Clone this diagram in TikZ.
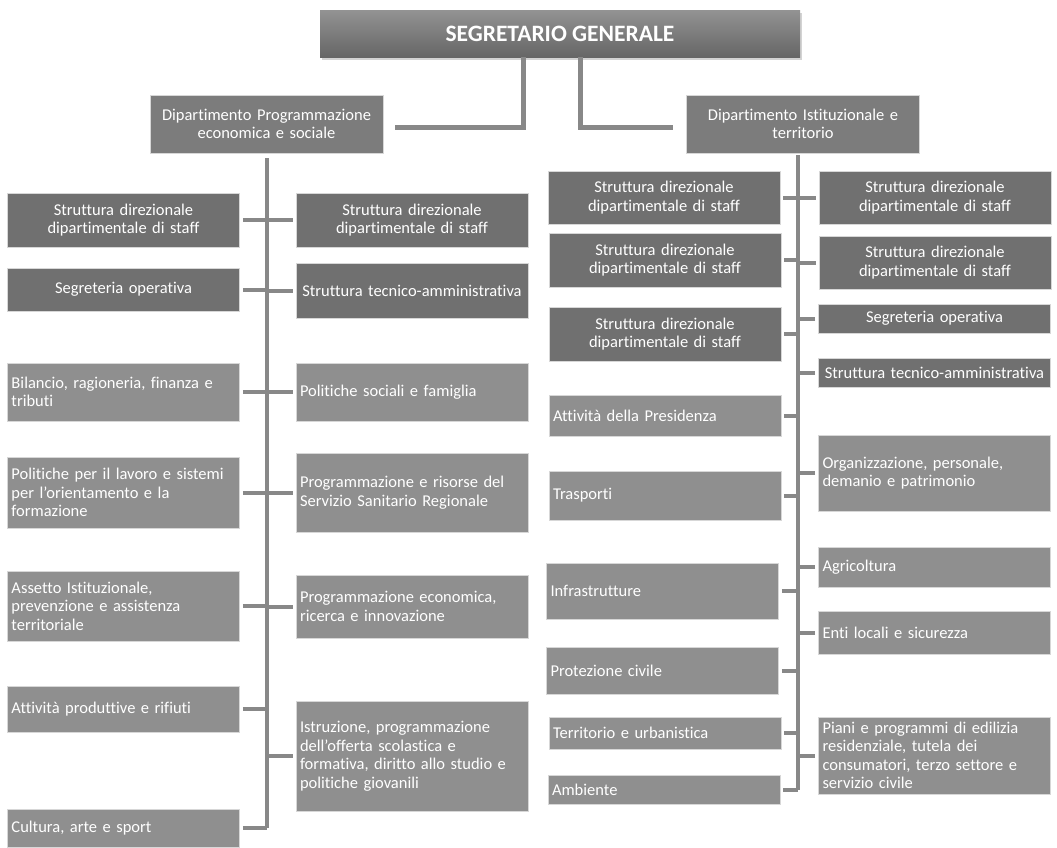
\documentclass[tikz,border=0pt]{standalone}
\usepackage{fontspec}
\setmainfont{Carlito}[Ligatures=NoCommon]
\usetikzlibrary{shadows}
\hyphenpenalty=10000
\exhyphenpenalty=10000
\definecolor{grigioScuro}{RGB}{112,112,112}
\definecolor{grigioMedio}{RGB}{124,124,124}
\definecolor{grigioChiaro}{RGB}{143,143,143}
\definecolor{filo}{RGB}{136,136,136}
\definecolor{bordo}{RGB}{215,215,215}

\begin{document}
\begin{tikzpicture}[x=1pt,y=-1pt,
  ufficio/.style={rectangle, draw=bordo, line width=0.8pt, text=white, inner xsep=4pt, inner ysep=1pt,
    text width=224pt, font=\fontsize{16.5}{18.5}\selectfont},
  staff/.style={ufficio, fill=grigioScuro, align=center},
  settore/.style={ufficio, fill=grigioChiaro, align=left},
  dipartimento/.style={ufficio, fill=grigioMedio, align=center, text width=225pt, minimum height=58pt},
  vertice/.style={rectangle, minimum width=480pt, minimum height=47pt, text=white,
    top color=gray!85!white, bottom color=gray!80!black,
    drop shadow={shadow xshift=2pt, shadow yshift=-3pt, opacity=0.35},
    font=\fontsize{23.5}{26}\selectfont\bfseries},
  ramo/.style={draw=filo, line width=4pt, shorten <=3pt}]
  \useasboundingbox (0,0) rectangle (1057,847);

  \node[vertice] (sg) at (560,33.5) {SEGRETARIO GENERALE};
  \node[dipartimento] (dipL) at (266.5,124) {Dipartimento Programmazione\\economica e sociale};
  \node[dipartimento] (dipR) at (803,124) {Dipartimento Istituzionale e\\territorio};

  % Dipartimento Programmazione economica e sociale
  \node[staff, minimum height=54pt] (sdsA) at (123.5,220) {Struttura direzionale\\dipartimentale di staff};
  \node[staff, minimum height=54pt] (sdsB) at (412,220) {Struttura direzionale\\dipartimentale di staff};
  \node[staff, minimum height=43pt] (segA) at (123.5,289.5) {Segreteria operativa};
  \node[staff, minimum height=55pt] (staA) at (412,290.5) {Struttura tecnico-amministrativa};
  \node[settore, minimum height=58pt] (bil) at (123.5,392) {Bilancio, ragioneria, finanza e\\tributi};
  \node[settore, minimum height=58pt] (pso) at (412,392) {Politiche sociali e famiglia};
  \node[settore, minimum height=71pt] (pla) at (123.5,492.5) {Politiche per il lavoro e sistemi\\per l'orientamento e la\\formazione};
  \node[settore, minimum height=79pt] (ssr) at (412,492.5) {Programmazione e risorse del\\Servizio Sanitario Regionale};
  \node[settore, minimum height=70pt] (ass) at (123.5,606) {Assetto Istituzionale,\\prevenzione e assistenza\\territoriale};
  \node[settore, minimum height=63pt] (pec) at (412,606.5) {Programmazione economica,\\ricerca e innovazione};
  \node[settore, minimum height=46pt] (apr) at (123.5,709) {Attività produttive e rifiuti};
  \node[settore, minimum height=110pt] (ist) at (412,756) {Istruzione, programmazione\\dell'offerta scolastica e\\formativa, diritto allo studio e\\politiche giovanili};
  \node[settore, minimum height=38pt] (cul) at (123.5,828) {Cultura, arte e sport};

  % Dipartimento Istituzionale e territorio
  \node[staff, minimum height=53pt] (sdsC) at (664,197.5) {Struttura direzionale\\dipartimentale di staff};
  \node[staff, minimum height=54pt] (sdsD) at (665,260) {Struttura direzionale\\dipartimentale di staff};
  \node[staff, minimum height=54pt] (sdsE) at (665,334) {Struttura direzionale\\dipartimentale di staff};
  \node[staff, minimum height=53pt] (sdsF) at (935,197.5) {Struttura direzionale\\dipartimentale di staff};
  \node[staff, minimum height=53pt] (sdsG) at (935,262.5) {Struttura direzionale\\dipartimentale di staff};
  \node[staff, minimum height=29pt] (segB) at (934.5,318.5) {Segreteria operativa};
  \node[staff, minimum height=29pt] (staB) at (934.5,372.5) {Struttura tecnico-amministrativa};
  \node[settore, minimum height=41pt] (pre) at (665,415.5) {Attività della Presidenza};
  \node[settore, minimum height=49pt] (tra) at (665,495.5) {Trasporti};
  \node[settore, minimum height=76pt] (org) at (934.5,473) {Organizzazione, personale,\\demanio e patrimonio};
  \node[settore, minimum height=40pt] (agr) at (934.5,567) {Agricoltura};
  \node[settore, minimum height=56pt] (inf) at (662.5,591) {Infrastrutture};
  \node[settore, minimum height=43pt] (ent) at (934.5,632.5) {Enti locali e sicurezza};
  \node[settore, minimum height=47pt] (pro) at (662.5,670.5) {Protezione civile};
  \node[settore, minimum height=32pt] (ter) at (665,733) {Territorio e urbanistica};
  \node[settore, minimum height=29pt] (amb) at (664,789.5) {Ambiente};
  \node[settore, minimum height=77pt] (pia) at (934.5,755.5) {Piani e programmi di edilizia\\residenziale, tutela dei\\consumatori, terzo settore e\\servizio civile};

  % segretario -> dipartimenti
  \coordinate (kL) at (523,127);
  \coordinate (kR) at (580,127);
  \draw[ramo, line width=5pt, shorten <=0pt, shorten >=12pt] (sg.south -| kL) -- (kL) -- (kL -| dipL.east);
  \draw[ramo, line width=5pt, shorten <=0pt, shorten >=13pt] (sg.south -| kR) -- (kR) -- (kR -| dipR.west);

  % rami a sinistra
  \draw[ramo, shorten <=5pt] (dipL.south) -- (dipL.south |- cul.east);
  \draw[ramo] (sdsA.east) -- (sdsA.east -| dipL.south);
  \draw[ramo] (sdsB.west) -- (sdsB.west -| dipL.south);
  \draw[ramo] (segA.east) -- (segA.east -| dipL.south);
  \draw[ramo] (staA.west) -- (staA.west -| dipL.south);
  \draw[ramo] (bil.east) -- (bil.east -| dipL.south);
  \draw[ramo] (pso.west) -- (pso.west -| dipL.south);
  \draw[ramo] (pla.east) -- (pla.east -| dipL.south);
  \draw[ramo] (ssr.west) -- (ssr.west -| dipL.south);
  \draw[ramo] (ass.east) -- (ass.east -| dipL.south);
  \draw[ramo] (pec.west) -- (pec.west -| dipL.south);
  \draw[ramo] (apr.east) -- (apr.east -| dipL.south);
  \draw[ramo] (ist.west) -- (ist.west -| dipL.south);
  \draw[ramo] (cul.east) -- (cul.east -| dipL.south);

  % rami a destra
  \coordinate (spR) at (798,155);
  \draw[ramo, shorten <=0pt] (spR) -- (spR |- amb.east);
  \draw[ramo] (sdsC.east) -- (sdsC.east -| spR);
  \draw[ramo] (sdsD.east) -- (sdsD.east -| spR);
  \draw[ramo] (sdsE.east) -- (sdsE.east -| spR);
  \draw[ramo] (sdsF.west) -- (sdsF.west -| spR);
  \draw[ramo] (sdsG.west) -- (sdsG.west -| spR);
  \draw[ramo] (segB.west) -- (segB.west -| spR);
  \draw[ramo] (staB.west) -- (staB.west -| spR);
  \draw[ramo] (pre.east) -- (pre.east -| spR);
  \draw[ramo] (tra.east) -- (tra.east -| spR);
  \draw[ramo] (org.west) -- (org.west -| spR);
  \draw[ramo] (agr.west) -- (agr.west -| spR);
  \draw[ramo] (inf.east) -- (inf.east -| spR);
  \draw[ramo] (ent.west) -- (ent.west -| spR);
  \draw[ramo] (pro.east) -- (pro.east -| spR);
  \draw[ramo] (ter.east) -- (ter.east -| spR);
  \draw[ramo] (amb.east) -- (amb.east -| spR);
  \draw[ramo] (pia.west) -- (pia.west -| spR);
\end{tikzpicture}
\end{document}
